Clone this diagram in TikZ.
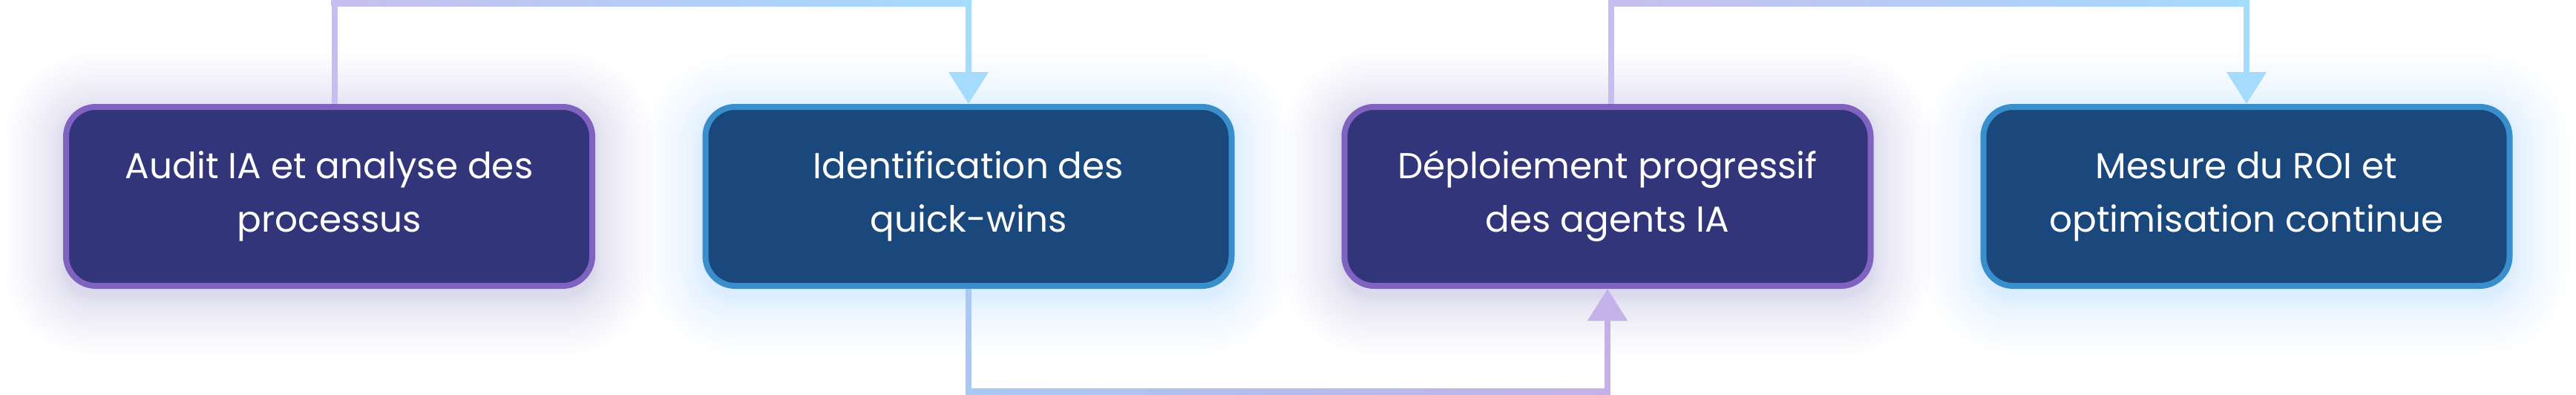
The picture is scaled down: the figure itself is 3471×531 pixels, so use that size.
\documentclass[tikz,border=0pt]{standalone}
\usepackage{fontspec}
\setmainfont{Poppins}
\usetikzlibrary{arrows.meta,calc}
\definecolor{purpfill}{HTML}{32357A}
\definecolor{purpborder}{HTML}{8062C0}
\definecolor{bluefill}{HTML}{1A487D}
\definecolor{blueborder}{HTML}{398FCB}
\definecolor{purpglow}{HTML}{9C7FD6}
\definecolor{blueglow}{HTML}{8ED3FF}
\definecolor{lineLav}{HTML}{C6BEEE}
\definecolor{lineSky}{HTML}{A5DBFD}
\definecolor{lineBlu}{HTML}{A9C8F3}
\definecolor{lineVio}{HTML}{C3B1E7}
\tikzset{
  stepbox/.style={rounded corners=40pt, line width=8pt, minimum width=709pt,
    minimum height=241pt, align=center, text=white, inner sep=0pt,
    font=\fontsize{48.5}{72}\selectfont},
  purplebox/.style={stepbox, draw=purpborder, fill=purpfill},
  bluebox/.style={stepbox, draw=blueborder, fill=bluefill},
  conn/.style={line width=8pt},
  tip/.style={-{Triangle[width=52pt,length=43pt]}},
}
\begin{document}
\begin{tikzpicture}[x=1pt,y=-1pt]
\fill[white] (0,0) rectangle (3471,531);
\useasboundingbox (0,0) rectangle (3471,531);
% soft glows
\foreach \cx/\col in {443.5/purpglow, 1305/blueglow, 2166/purpglow, 3027/blueglow}{
  \foreach \k in {1,...,18}{
    \pgfmathsetmacro{\d}{78*(\k/18)^1.7}
    \pgfmathsetmacro{\r}{40+\d}
    \fill[\col, opacity=0.016, rounded corners=\r pt]
      (\cx-358.5-\d, 150-\d) rectangle (\cx+358.5+\d, 399+\d);
  }
}
\coordinate (topy) at (0,4);
\coordinate (boty) at (0,527);
% nodes
\node[purplebox] (n1) at (443.5,264.5) {Audit IA et analyse des\\processus};
\node[bluebox]   (n2) at (1305,264.5) {Identification des\\quick-wins};
\node[purplebox] (n3) at (2166,264.5) {Déploiement progressif\\des agents IA};
\node[bluebox]   (n4) at (3027,264.5) {Mesure du ROI et\\optimisation continue};
% connector 1 -> 2
\coordinate (s1) at ($(n1.north)+(7,0)$);
\draw[conn, lineLav] (s1) -- (s1 |- topy);
\shade[left color=lineLav, right color=lineSky] ($(s1 |- topy)+(-4,-4)$) rectangle ($(n2.north |- topy)+(4,4)$);
\draw[conn, lineSky, tip] (n2.north |- topy) -- (n2.north);
% connector 2 -> 3
\draw[conn, lineBlu] (n2.south) -- (n2.south |- boty);
\shade[left color=lineBlu, right color=lineVio] ($(n2.south |- boty)+(-4,-4)$) rectangle ($(n3.south |- boty)+(4,4)$);
\draw[conn, lineVio, tip] (n3.south |- boty) -- (n3.south);
% connector 3 -> 4
\coordinate (s3) at ($(n3.north)+(5,0)$);
\draw[conn, lineLav] (s3) -- (s3 |- topy);
\shade[left color=lineLav, right color=lineSky] ($(s3 |- topy)+(-4,-4)$) rectangle ($(n4.north |- topy)+(4,4)$);
\draw[conn, lineSky, tip] (n4.north |- topy) -- (n4.north);
\end{tikzpicture}
\end{document}
